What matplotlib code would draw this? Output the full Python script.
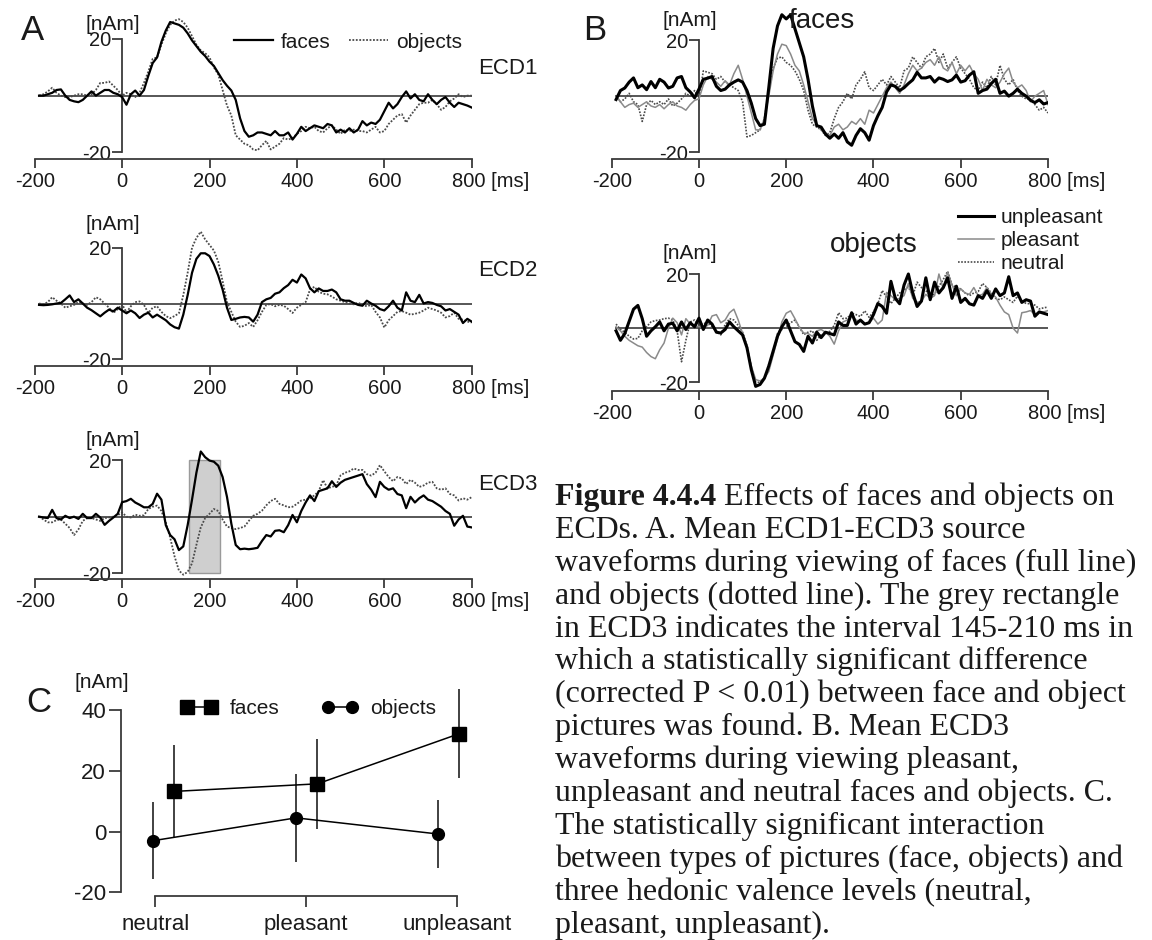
import numpy as np
import matplotlib
matplotlib.use("Agg")
import matplotlib.pyplot as plt
from matplotlib.lines import Line2D
from matplotlib.patches import Rectangle
from matplotlib.transforms import ScaledTranslation

plt.rcParams['font.family'] = ['Liberation Sans', 'DejaVu Sans']
plt.rcParams['axes.unicode_minus'] = False

# ---------------- data ----------------
time_ms = np.arange(-190, 801, 10)
time_ticks = [-200, 0, 200, 400, 600, 800]
time_ticklabels = ['-200', '0', '200', '400', '600', '800 [ms]']
amp_ticks = [-20, 20]
amp_ticklabels = ['-20', '20']

ecd1_faces = [
    0, 0, 0.5, 1, 2, 2.2, 0, -1.5, -2, -2.3,
    -1.5, 0, 1.5, 0, 1, 2, 2, 1, 0.5, -0.5,
    -3.2, 0.5, 1.8, 0, 2, 7, 11.5, 13.5, 19, 23,
    26, 25.5, 25, 24, 22, 19.5, 17.5, 15.5, 14, 12,
    10.5, 8, 5.5, 3.5, 1.8, -1.5, -8, -12.5, -14.5, -14,
    -13, -13, -13.5, -14, -12.5, -14, -14, -13, -15.5, -13.5,
    -11, -12.5, -11.5, -10.5, -11, -11.5, -10, -10.5, -13, -12,
    -13, -11.5, -13, -12, -9, -10.5, -9.5, -10, -8.5, -5.5,
    -2.5, -4.5, -3, -0.5, 1.5, -1, 0.5, -1.5, -2, 0.5,
    -1.5, -3, -1.5, -0.5, -2.5, -4, -2.5, -3, -3.5, -4.2]
ecd1_objects = [
    0, 0.5, 1.5, 2.8, 1, 0, -0.5, -0.5, 0, 0.5,
    0.5, 0, 0.5, 2, 4.5, 4.5, 5, 3.5, 2, 0,
    1, 0.5, -0.5, 1, 4.5, 8.5, 13, 13.5, 18, 22,
    25, 26.5, 27, 26, 24, 21, 18, 16, 15, 13.5,
    10, 7.5, 2, -3.5, -7, -14, -15.5, -17, -17.5, -19,
    -19.3, -17.5, -16, -19, -18, -17, -15, -15.5, -15, -13.5,
    -12.5, -11, -11.5, -11, -12.5, -13, -11.5, -10.5, -12, -13.5,
    -12, -12.5, -12, -12.5, -12.5, -13, -12, -11, -13, -12.5,
    -10, -8.5, -7, -6.5, -9.5, -7, -5, -3, -2.5, -2.5,
    -1.5, -3, -5, -4, -2, -1, 0.5, -0.5, 0, 0]
ecd2_faces = [
    -0.5, -0.6, -0.5, -0.3, 0, 0.2, 1.5, 2.9, 0.5, 1.5,
    0, -1.5, -2.4, -3.5, -4.6, -3.3, -2.2, -2.8, -1.5, -2.5,
    -3.5, -2.5, -3.5, -5.2, -4, -3.3, -5, -4, -5, -6,
    -7.5, -8.5, -9, -4, 3, 11, 16, 18, 18, 17,
    14, 10, 5, -1.5, -5.9, -5.5, -5, -4.8, -5, -6.5,
    -4, 0.5, 1.5, 2, 3.5, 4, 5.5, 6.6, 8.5, 7.5,
    10.4, 9, 5.5, 4, 5.4, 4.5, 4.5, 5, 4, 1.5,
    1, 1, 0.2, -0.5, -0.8, 1, 0, -0.8, -2, -2.5,
    -1, 1, -1.5, -2.5, 4, 1, 0.5, 3.1, 0, 0.5,
    0.2, -0.5, -1, -2.5, -2, -3, -4, -7, -5.5, -6.5]
ecd2_objects = [
    0, -0.3, 0.5, 2.25, 1, 0, -1.5, -1, -0.5, 0.5,
    0, -0.5, 0.5, 2.25, 1.5, 0, -1.5, -3.4, -2, -0.3,
    -3.2, -1, 0.5, 0.75, -0.5, -3.4, -1.5, -1, -3, -4.5,
    -5.25, -4.5, -3.5, 3, 11, 20, 23.5, 25.75, 23, 21,
    19, 15, 8, 0.5, -3, -6.5, -8.4, -8, -7, -8.4,
    -6, -3, -0.5, -0.2, -1, -0.5, -0.8, -2, -3.4, -1.5,
    -0.5, 0.5, 5, 6, 4.2, 3.5, 3.3, 2.5, 1.5, 1,
    0.5, 0, -0.3, 0.3, -0.5, -1, -0.5, -3, -5, -8.6,
    -6, -4.5, -3, -2.7, -3.3, -4, -3.7, -3.3, -2.5, -1.5,
    -2, -2.5, -3.3, -5, -4.5, -3.3, -5.5, -5.8, -6.5, -6.8]
ecd3_faces = [
    0, -0.3, -0.5, 2.4, -0.5, -1, 0.3, -0.5, 0, -0.8,
    1, -0.5, -0.5, 1, -0.3, -2.9, -1.5, -0.3, 1, 5.1,
    5.5, 6.3, 5, 4.2, 3.3, 3.3, 4.5, 8.1, 6, -3,
    -6.5, -8, -11.8, -10.5, -3, 6, 15.5, 23, 21, 19.8,
    19.4, 18, 14, 7, -2.5, -10, -11.5, -11.3, -11.5, -11.3,
    -11, -8.6, -6.5, -7, -5, -4.8, -5.5, -3, 0.6, -2,
    2, 5, 7.5, 5.5, 9, 9.5, 10, 12.5, 10.5, 12,
    13, 13.5, 14, 14.5, 15, 11.5, 9.5, 6.9, 12.3, 10.5,
    9.5, 10, 8, 7.5, 3, 7, 5, 6.5, 7.5, 6,
    5.5, 4.5, 3.5, 2, 1, -3.2, -1, 0.3, -3.5, -3.8]
ecd3_objects = [
    0, -1, -2, -2, -1.2, -1, -2.5, -4, -6.5, -4.5,
    -1.5, -0.5, -0.5, -1, -1.5, -0.5, -0.3, 0, 0.5, 1.5,
    0, -0.3, 0.7, 0.3, 0.5, 2.7, 3.5, 3.9, 2, -2,
    -7.4, -14, -19, -20.5, -19.5, -16.5, -10, -3.8, -0.5, 1,
    2.7, 2, -1, -3.5, -4, -4.4, -4, -3.5, -1.5, 0.3,
    1, 2.1, 4, 5.5, 6.3, 4.5, 4, 3.3, 3.5, 4.5,
    5.7, 6, 6.5, 7.5, 9, 12.9, 10, 10.5, 11, 14.6,
    15.5, 16, 17, 16.5, 16.5, 15, 14.5, 15.5, 18.2, 16,
    14, 12.5, 14, 13.5, 11.5, 13, 12, 10.5, 11, 12,
    12.3, 10, 9.5, 10, 8, 7.5, 5.7, 6.5, 6, 6.9]
sig_start, sig_end = 153, 224

faces_unpleasant = [
    -1.2, 2, 2.9, 5, 6.5, 3, 4, 2.3, 5.2, 3,
    6, 5, 2.9, 3.5, 6.5, 7, 3, 1.5, -0.6, 2.5,
    6, 6.4, 7, 3.5, 2, 2.5, 4, 5, 5.8, 5,
    2, -2.5, -8, -10.5, -10, 3, 17, 25, 29, 27.5,
    29, 24, 19, 14, 6, -3.5, -10.5, -11, -13.5, -15,
    -13.5, -15, -13, -16.3, -17.5, -14, -11.6, -13, -15.7, -10.5,
    -7, -4, 1.5, 4, 3.5, 2, 3, 4.5, 5.8, 8.5,
    6.5, 6.5, 7, 5, 6.5, 6, 5.2, 5.8, 7.5, 5,
    5.5, 7.5, 8.7, 1, 2, 2.5, 4.5, 6, 1, 1.8,
    0, 1, 2.5, 1, 0, -1.5, -2.3, -1.3, -2.8, -2.3]
faces_pleasant = [
    0, -2, -4, -3, -2.5, -4, -3, -2, -3.5, -4,
    -3, -4.5, -3, -2, -3.5, -4, -5, -3, -1.5, -1,
    4, 7, 6, 5, 3.5, 5.5, 4, 8, 11, 6,
    0, -6, -12, -12, -8, 0, 9, 15, 18.5, 18,
    15, 11, 9, 4, -2, -8, -10, -12, -13, -14,
    -11, -10, -12, -11, -9, -10, -8, -10, -5, -6,
    -3, 0, 3, 5, 3, 1, 4, 8, 11, 9,
    10, 12, 13, 11, 14, 10, 9, 12, 8, 11,
    9, 11, 8, 6, 2, 6, 4, 3, 5, 8,
    10, 5, 3, 4, 2, -2, 0, 1, 2, -3]
faces_neutral = [
    0, -2, -1, 1, -2, -3, -9, -3, -1.5, -3,
    -2, -3, -1, -3.5, -2.5, -1, 1, 0, 2, -1,
    9, 8.5, 8, 6, 7, 5, 4, 3, 2, -2,
    -14.5, -14, -13, -12, -8, 2, 10, 13.5, 14, 12,
    11, 9, 6, 2, -5, -10, -11, -12, -14, -13,
    -8, -4, -2, 1, -1, 4, 6, 8.7, 3, 2,
    4, 6, 4, 7, 5, 3, 9, 10, 14, 12,
    10, 14, 15, 17, 12, 15, 10, 12, 14, 10,
    8, 6, 3, 2, 5, 3, 7, 4, 11, 6,
    4, 6, 2, 0, -1, -1, -3, -5, -4, -6]
objects_unpleasant = [
    -1, -4.5, -2, 2.5, 7, 8.4, 3.5, -3, -1, 0.5,
    2.3, -1, 1.5, 1.8, -1, 2.3, -0.5, 2, 0.5, 3.7,
    -0.5, 3, 1.5, -1.5, -1.8, -0.5, 2.3, 0.5, -1, -2.5,
    -7.2, -15.4, -21.5, -20.8, -18.5, -14, -8.5, -3, 0.5, 3,
    -1, -5, -6, -8.6, -3, -5.5, -1.5, -3.5, -1.5, -2,
    -2.5, 2.3, 1, 1, 5.7, 1.5, 3, 1.5, 2, 5,
    9.1, 8, 5.5, 17.3, 11, 9, 15.9, 20, 13, 8,
    10, 18.6, 10.5, 17, 13, 15, 18.6, 11, 15.5, 9.5,
    11, 9, 8.5, 12, 11, 13.9, 11, 14.5, 12, 13,
    19, 12, 13, 9.5, 10.5, 10, 4.4, 6, 5.5, 5]
objects_pleasant = [
    0.5, -1, -3, -4.5, -5.5, -6.5, -7, -9, -10.5, -11.3,
    -8, -5.5, 0, 3.7, 2, -2.5, 3.5, 1.5, 1, 0.5,
    0.5, 1, 4.5, 5, 2, 3, 5.7, 7, 3, -2,
    -7.5, -14, -19, -19.5, -18.5, -16, -10, -4, 2.3, 5.5,
    6.4, 3.5, 0.3, -1.8, -2, -3, -1, -0.5, -1.5, -3,
    -5.9, -1, 2.3, 3, 5, 3, 2.5, 1.5, 2, 3.7,
    1.5, 3, 13.2, 12, 10.5, 11, 12, 16.5, 11, 9.5,
    10, 12.5, 11, 12, 20, 14.5, 20.7, 16, 12, 14.5,
    13, 12.5, 15, 12, 12.5, 15, 12.5, 11.5, 8.5, 6,
    5, 0, -1.8, 5.7, 6, 6.5, 5, 6, 6, 6.5]
objects_neutral = [
    1.5, -0.5, -1.5, -3, -4, -3.8, -1, 0.5, 2.3, 2.8,
    3, 3.5, 3.7, 3, -1, -12.4, -4.5, 2.3, 3, 1.5,
    1.5, 2.3, 0.5, -1.1, -2.5, 1.3, 3.5, 3, 1, -1.5,
    -6.5, -14.5, -19.8, -20.1, -18.5, -13.5, -9, -2, -0.5, 0.5,
    2, 3, 0.5, -2.4, -1.5, -1, -4.5, -2.5, -1.5, -1.2,
    1, 5.7, 3.5, 3.7, 5.5, 5, 4.3, 6.4, 4, 6,
    9, 13.9, 11.5, 9.1, 11, 13, 14, 15.2, 12, 17,
    15, 13.9, 12, 12.5, 15.5, 18, 21, 16, 15, 14.5,
    13, 12, 13, 13.5, 16.5, 15, 13, 11, 10.5, 11.5,
    10.5, 9.5, 11.8, 10, 9.1, 9, 8.5, 7.1, 7.5, 7.8]

valence_levels = ['neutral', 'pleasant', 'unpleasant']
c_faces_x = [0.124, 1.076, 2.017]
c_faces_mean = [13.2, 15.7, 32.2]
c_faces_err = [15.2, 14.8, 14.7]
c_objects_x = [-0.013, 0.934, 1.874]
c_objects_mean = [-3.0, 4.5, -0.8]
c_objects_err = [12.6, 14.6, 11.3]
c_yticks = [-20, 0, 20, 40]

caption_lines = [
    "Effects of faces and objects on",
    "ECDs. A. Mean ECD1-ECD3 source",
    "waveforms during viewing of faces (full line)",
    "and objects (dotted line). The grey rectangle",
    "in ECD3 indicates the interval 145-210 ms in",
    "which a statistically significant difference",
    "(corrected P < 0.01) between face and object",
    "pictures was found. B. Mean ECD3",
    "waveforms during viewing pleasant,",
    "unpleasant and neutral faces and objects. C.",
    "The statistically significant interaction",
    "between types of pictures (face, objects) and",
    "three hedonic valence levels (neutral,",
    "pleasant, unpleasant).",
]

# ---------------- figure ----------------
W, H = 1152, 940
fig = plt.figure(figsize=(W / 100, H / 100), dpi=100)
AXC = '#3a3a3a'
TXT = '#1a1a1a'
TICK_FS = 14.5


def ftext(x, y, s, **kw):
    kw.setdefault('color', TXT)
    return fig.text(x / W, 1 - y / H, s, **kw)


def px_axes(xl, xr, yt, yb):
    ax = fig.add_axes([xl / W, 1 - yb / H, (xr - xl) / W, (yb - yt) / H])
    ax.patch.set_alpha(0)
    return ax


def erp_axes(xl, xr, y_p20, y_m20, y_spine, y_top):
    ax = px_axes(xl, xr, y_top, y_spine)
    s = (y_m20 - y_p20) / 40.0
    ax.set_xlim(-200, 800)
    ax.set_ylim(-20 - (y_spine - y_m20) / s, 20 + (y_p20 - y_top) / s)
    for sp in ['top', 'right']:
        ax.spines[sp].set_visible(False)
    ax.spines['left'].set_position(('data', 0))
    ax.spines['left'].set_bounds(-20, 20)
    ax.spines['bottom'].set_bounds(-200, 800)
    for sp in ['left', 'bottom']:
        ax.spines[sp].set_color(AXC)
        ax.spines[sp].set_linewidth(1.3)
    ax.set_xticks(time_ticks)
    ax.set_xticklabels(time_ticklabels)
    ax.set_yticks(amp_ticks)
    ax.set_yticklabels(amp_ticklabels)
    ax.tick_params(axis='x', direction='out', length=6.5, width=1.3, color=AXC,
                   labelsize=TICK_FS, pad=3, labelcolor=TXT)
    ax.tick_params(axis='y', direction='out', length=7, width=1.3, color=AXC,
                   labelsize=TICK_FS, pad=1, labelcolor=TXT)
    lbl = ax.get_xticklabels()[-1]
    lbl.set_horizontalalignment('left')
    lbl.set_transform(lbl.get_transform() + ScaledTranslation(-0.2, 0, fig.dpi_scale_trans))
    ax.hlines(0, -192, 800, color=AXC, lw=1.2, zorder=1)
    return ax


FACE_KW = dict(color='black', lw=1.6, zorder=3)
OBJ_KW = dict(color='#4a4a4a', lw=1.3, ls=(0, (1, 0.9)), zorder=2)

# Panel A
axA = [
    erp_axes(34.7, 471.7, 39, 152.3, 159, 5),
    erp_axes(34.7, 471.7, 247.7, 359.3, 366, 215),
    erp_axes(34.7, 471.7, 460, 573.3, 579.3, 425),
]
for ax, yf, yo in zip(axA, [ecd1_faces, ecd2_faces, ecd3_faces],
                      [ecd1_objects, ecd2_objects, ecd3_objects]):
    ax.plot(time_ms, yo, **OBJ_KW)
    ax.plot(time_ms, yf, **FACE_KW)
axA[2].add_patch(Rectangle((sig_start, -20), sig_end - sig_start, 40,
                           facecolor='#cfcfcf', edgecolor='#9a9a9a', lw=1, zorder=0.5))

ftext(21, 30, 'A', fontsize=25, ha='left', va='center')
for y in [24, 225, 440]:
    ftext(113, y, '[nAm]', fontsize=15, ha='center', va='center')
for y, s in zip([69, 271, 485], ['ECD1', 'ECD2', 'ECD3']):
    ftext(478, y, s, fontsize=16, ha='left', va='center')

legA = fig.legend([Line2D([], [], **FACE_KW), Line2D([], [], **OBJ_KW)], ['faces', 'objects'],
                  loc='center left', bbox_to_anchor=(234 / W, 1 - 42 / H), ncol=2,
                  frameon=False, fontsize=15, handlelength=1.85, handletextpad=0.4,
                  columnspacing=0.9, borderpad=0, borderaxespad=0)
for t in legA.get_texts():
    t.set_color(TXT)

# Panel B
U_KW = dict(color='black', lw=2.2, zorder=4)
P_KW = dict(color='#8a8a8a', lw=1.1, zorder=3)
N_KW = dict(color='#4a4a4a', lw=1.2, ls=(0, (1, 0.9)), zorder=2)
axBf = erp_axes(611.7, 1048, 40, 152.3, 159, 5)
axBo = erp_axes(611.7, 1048, 274, 382.3, 391, 240)
for ax, yu, yp, yn in [(axBf, faces_unpleasant, faces_pleasant, faces_neutral),
                       (axBo, objects_unpleasant, objects_pleasant, objects_neutral)]:
    ax.plot(time_ms, yn, **N_KW)
    ax.plot(time_ms, yp, **P_KW)
    ax.plot(time_ms, yu, **U_KW)

ftext(583, 30, 'B', fontsize=25, ha='left', va='center')
ftext(690, 20, '[nAm]', fontsize=15, ha='center', va='center')
ftext(690, 253, '[nAm]', fontsize=15, ha='center', va='center')
ftext(822, 21, 'faces', fontsize=20, ha='center', va='center')
ftext(874, 245, 'objects', fontsize=20, ha='center', va='center')
legB = fig.legend([Line2D([], [], **U_KW), Line2D([], [], **P_KW), Line2D([], [], **N_KW)],
                  ['unpleasant', 'pleasant', 'neutral'],
                  loc='upper left', bbox_to_anchor=(958 / W, 1 - 208 / H), ncol=1,
                  frameon=False, fontsize=15, handlelength=1.75, handletextpad=0.3,
                  labelspacing=0.2, borderpad=0, borderaxespad=0)
for t in legB.get_texts():
    t.set_color(TXT)

# Panel C
axC = px_axes(120.7, 470, 675, 895.7)
sC = (892.3 - 710) / 60.0
ux = (456.7 - 155.3) / 2.0
axC.set_ylim(-20 - (895.7 - 892.3) / sC, 40 + (710 - 675) / sC)
axC.set_xlim((120.7 - 155.3) / ux, (470 - 155.3) / ux)
for sp in ['top', 'right']:
    axC.spines[sp].set_visible(False)
axC.spines['left'].set_bounds(-20, 40)
axC.spines['bottom'].set_bounds(0, 2)
for sp in ['left', 'bottom']:
    axC.spines[sp].set_color(AXC)
    axC.spines[sp].set_linewidth(1.3)
axC.set_yticks(c_yticks)
axC.set_xticks([0, 1, 2])
axC.set_xticklabels(valence_levels)
axC.tick_params(axis='y', direction='out', length=8.5, width=1.3, color=AXC,
                labelsize=16, pad=2, labelcolor=TXT)
axC.tick_params(axis='x', direction='out', length=8, width=1.3, color=AXC,
                labelsize=16, pad=5, labelcolor=TXT)
FC_KW = dict(color='black', marker='s', ms=9.5, lw=1.1)
OC_KW = dict(color='black', marker='o', ms=8.5, lw=1.1)
axC.errorbar(c_faces_x, c_faces_mean, yerr=c_faces_err, ecolor='#333333', elinewidth=1.3,
             capsize=0, clip_on=False, zorder=3, **FC_KW)
axC.errorbar(c_objects_x, c_objects_mean, yerr=c_objects_err, ecolor='#333333', elinewidth=1.3,
             capsize=0, clip_on=False, zorder=3, **OC_KW)
ftext(26, 702, 'C', fontsize=25, ha='left', va='center')
ftext(102, 683, '[nAm]', fontsize=15, ha='center', va='center')
legC = fig.legend([Line2D([], [], **FC_KW), Line2D([], [], **OC_KW)], ['faces', 'objects'],
                  loc='center left', bbox_to_anchor=(181 / W, 1 - 709 / H), ncol=2, numpoints=2,
                  frameon=False, fontsize=15, handlelength=1.75, handletextpad=0.6,
                  columnspacing=2.0, borderpad=0, borderaxespad=0)
for t in legC.get_texts():
    t.set_color(TXT)

# Caption
SERIF = ['Liberation Serif', 'DejaVu Serif']
renderer = fig.canvas.get_renderer()
probe = ftext(0, 0, caption_lines[2], fontfamily=SERIF, fontsize=20)
cap_fs = 20 * 582 / probe.get_window_extent(renderer).width
probe.remove()
cap_x = 555
for i, line in enumerate(caption_lines):
    yb = 505 + i * 32.9
    if i == 0:
        b = ftext(cap_x, yb, 'Figure 4.4.4', fontfamily=SERIF, fontsize=cap_fs,
                  weight='bold', ha='left', va='baseline')
        wb = b.get_window_extent(renderer).width
        ftext(cap_x + wb, yb, ' ' + line, fontfamily=SERIF, fontsize=cap_fs,
              ha='left', va='baseline')
    else:
        ftext(cap_x, yb, line, fontfamily=SERIF, fontsize=cap_fs, ha='left', va='baseline')

fig.savefig('out.png', dpi=100)
